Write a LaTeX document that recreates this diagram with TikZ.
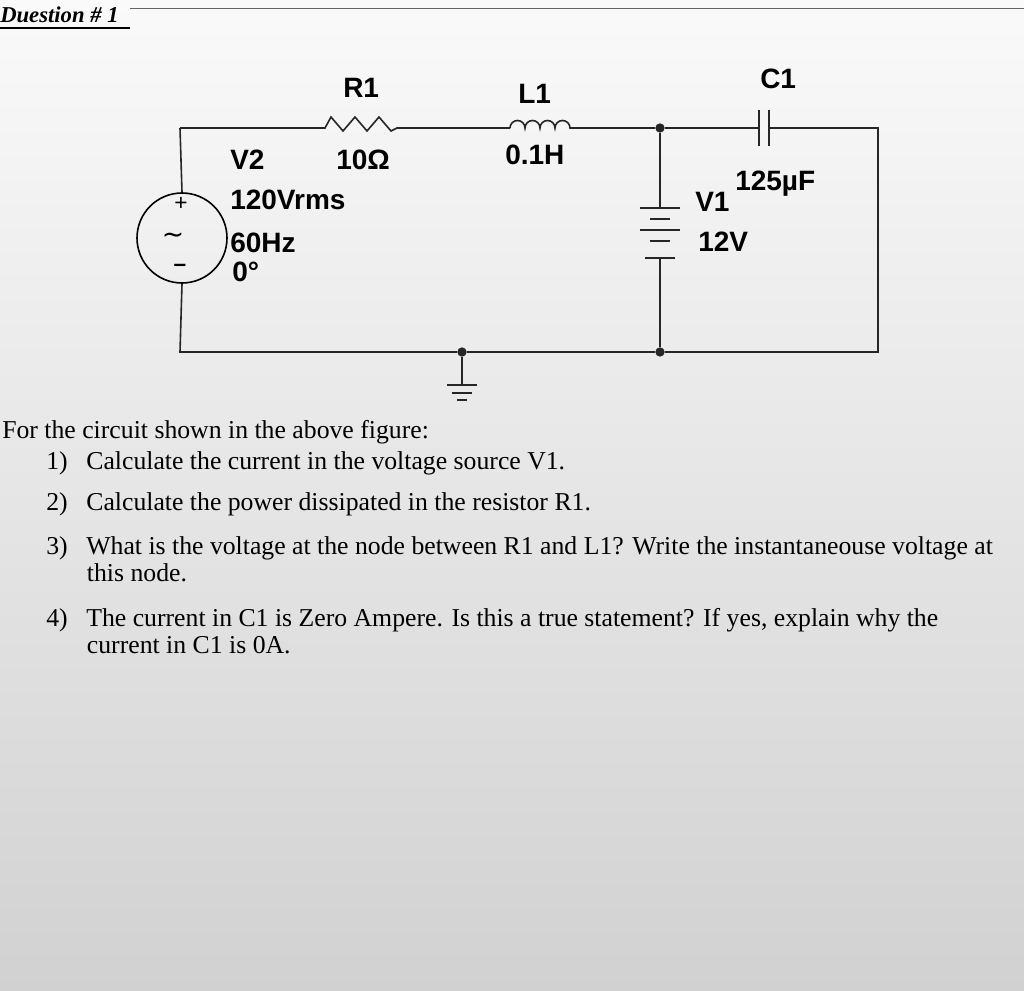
\documentclass[tikz,border=0pt]{standalone}
\usepackage{fontspec}
\setmainfont{Liberation Serif}
\newfontfamily\lab{Liberation Sans}
\newfontfamily\djv{DejaVu Sans}
\begin{document}
\begin{tikzpicture}[x=0.75pt,y=-0.75pt,
  wire/.style={line width=1.2pt,black!85},
  dotn/.style={circle,fill=black!85,inner sep=0pt,minimum size=7pt},
  cl/.style={font=\lab\bfseries\fontsize{21}{23}\selectfont,inner sep=0pt,anchor=west},
  qt/.style={font=\fontsize{19.3}{20.5}\selectfont,inner sep=0pt,anchor=west,align=left}]
\useasboundingbox (0,0) rectangle (1024,991);
\shade[top color=white!96!gray, bottom color=black!18] (0,0) rectangle (1024,991);
% header
\node[font=\bfseries\itshape\fontsize{17}{19}\selectfont,anchor=west,inner sep=0pt] (hd) at (0,15) {Duestion \# 1};
\draw[line width=0.8pt] (0,28) -- (130,28);
\draw[line width=0.6pt,black!60] (130,8) -- (1024,8);
% nodes
\coordinate (tl) at (180,128); \coordinate (bl) at (180,352);
\coordinate (tr) at (878,128); \coordinate (br) at (878,352);
\node[dotn] (dt) at (660,128) {};
\node[dotn] (db) at (660,352) {};
\node[dotn] (dg) at (462,352) {};
\node[circle,draw,line width=1.2pt,minimum size=90pt*0.75,inner sep=0pt] (src) at (182,238) {};
% top wire with R1, L1, C1
\draw[wire] (tl) -- (325,128) -- (331,117) -- (343,131) -- (355,117) -- (367,131) -- (379,117) -- (391,131) -- (397,128) -- (510,128);
\draw[wire] (510,128) arc(180:360:7.5) arc(180:360:7.5) arc(180:360:7.5) arc(180:360:7.5) -- (dt);
\draw[wire] (dt) -- (759,128);
\draw[wire] (759,110) -- (759,146);
\draw[wire] (769,110) -- (769,146);
\draw[wire] (769,128) -- (tr) -- (br) -- (db) -- (dg) -- (bl) -- (src.south);
\draw[wire] (src.north) -- (tl);
% battery V1
\draw[wire] (dt) -- (660,208);
\draw[wire] (640,208) -- (680,208);
\draw[wire] (650,219) -- (670,219);
\draw[wire] (640,230) -- (680,230);
\draw[wire] (650,241) -- (670,241);
\draw[wire] (645,258) -- (675,258);
\draw[wire] (660,258) -- (db);
% ground
\draw[wire] (dg) -- (462,385);
\draw[wire] (447,385) -- (477,385);
\draw[wire] (452,393) -- (472,393);
\draw[wire] (457,400) -- (467,400);
% source symbols
\node[font=\lab\fontsize{17}{17}\selectfont,inner sep=0pt] (pl) at (181,204) {+};
\node[font=\djv\fontsize{20}{20}\selectfont,inner sep=0pt] (ti) at (173,238) {∼};
\node[font=\lab\bfseries\fontsize{17}{17}\selectfont,inner sep=0pt] (mi) at (180,268) {–};
% labels
\node[cl] (r1) at (343,88) {R1};
\node[cl] (l1) at (518,94) {L1};
\node[cl] (c1) at (760,79) {C1};
\node[cl] (r1v) at (336,160) {10Ω};
\node[cl] (l1v) at (505,155) {0.1H};
\node[cl] (v2) at (230,160) {V2};
\node[cl] (v2a) at (230,200) {120Vrms};
\node[cl] (v2b) at (230,243) {60Hz};
\node[cl] (v2c) at (232,272) {0°};
\node[cl] (c1v) at (735,184) {125µF};
\node[cl] (v1) at (695,202) {V1};
\node[cl] (v1v) at (698,242) {12V};
% questions
\node[qt] (q0) at (2,432) {For the circuit shown in the above figure:};
\node[qt] (q1) at (46,463) {1)\hspace{14pt}Calculate the current in the voltage source V1.};
\node[qt] (q2) at (46,504) {2)\hspace{14pt}Calculate the power dissipated in the resistor R1.};
\node[qt,anchor=north west] (q3) at (46,536) {3)\hspace{14pt}What is the voltage at the node between R1 and L1? Write the instantaneouse voltage at\\\hspace{30.5pt}this node.};
\node[qt,anchor=north west] (q4) at (46,608) {4)\hspace{14pt}The current in C1 is Zero Ampere. Is this a true statement? If yes, explain why the\\\hspace{30.5pt}current in C1 is 0A.};
\end{tikzpicture}
\end{document}
